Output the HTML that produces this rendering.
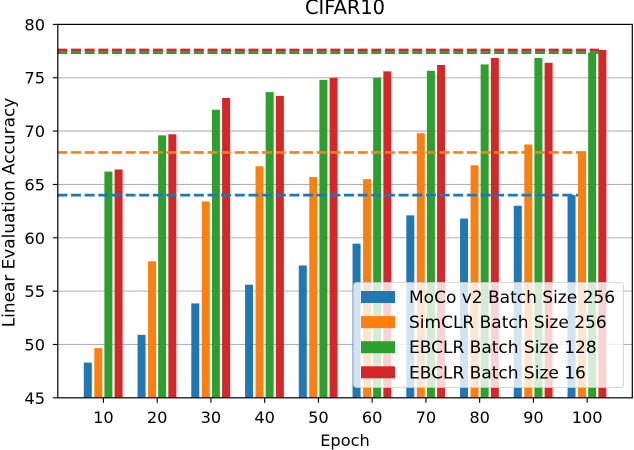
<!DOCTYPE html>
<html>
<head>
<meta charset="utf-8">
<title>CIFAR10</title>
<style>
html,body{margin:0;padding:0;background:#fff;}
svg{display:block;font-family:"DejaVu Sans","Liberation Sans",sans-serif;}
</style>
</head>
<body>
<svg id="chart" xmlns="http://www.w3.org/2000/svg" width="634" height="450" viewBox="0 0 634 450">
  <rect x="0" y="0" width="634" height="450" fill="#ffffff"/>
  <text x="345" y="14" font-size="19.4" text-anchor="middle" fill="#000">CIFAR10</text>
  <text x="345" y="446" font-size="16.2" text-anchor="middle" fill="#000">Epoch</text>
  <text x="0" y="0" font-size="16.9" text-anchor="middle" fill="#000" transform="translate(14.5 212.5) rotate(-90)">Linear Evaluation Accuracy</text>
  <g id="grid-layer"></g>
  <g id="bars-layer"></g>
  <g id="refs-layer"></g>
  <g id="axes-layer"></g>
  <g id="legend-layer"></g>
</svg>
<script>
const categories = [10, 20, 30, 40, 50, 60, 70, 80, 90, 100];
const mocoValues = [48.3, 50.9, 53.85, 55.6, 57.4, 59.45, 62.1, 61.8, 63.0, 64.0];
const simclrValues = [49.65, 57.8, 63.4, 66.7, 65.7, 65.5, 69.8, 66.8, 68.75, 68.0];
const ebclr128Values = [66.2, 69.6, 72.0, 73.65, 74.8, 75.0, 75.65, 76.25, 76.85, 77.35];
const ebclr16Values = [66.4, 69.7, 73.1, 73.3, 75.0, 75.6, 76.2, 76.85, 76.4, 77.6];
const seriesNames = ["MoCo v2 Batch Size 256", "SimCLR Batch Size 256", "EBCLR Batch Size 128", "EBCLR Batch Size 16"];
const referenceValues = [64.0, 68.0, 77.35, 77.6];
const yTicks = [45, 50, 55, 60, 65, 70, 75, 80];

const NS = "http://www.w3.org/2000/svg";
const seriesColors = ["#1f77b4", "#ff7f0e", "#2ca02c", "#d62728"];
const allSeries = [mocoValues, simclrValues, ebclr128Values, ebclr16Values];
const slugs = ["moco", "simclr", "ebclr-128", "ebclr-16"];
const barOffsets = [-15.6, -5.1, 5, 15.2];
const lineEnds = [578, 586, 599, 599];
const barWidth = 8;
const plotLeft = 57.8, plotRight = 632.3, plotTop = 24.4, plotBottom = 397.8;

function yScale(v) { return plotTop + (80 - v) * (plotBottom - plotTop) / 35; }
function xScale(e) { return 103.4 + (e - 10) * 5.375; }
function make(tag, attrs, parent) {
  const el = document.createElementNS(NS, tag);
  for (const k in attrs) el.setAttribute(k, attrs[k]);
  parent.appendChild(el);
  return el;
}

const gridLayer = document.getElementById("grid-layer");
const barsLayer = document.getElementById("bars-layer");
const refsLayer = document.getElementById("refs-layer");
const axesLayer = document.getElementById("axes-layer");
const legendLayer = document.getElementById("legend-layer");

yTicks.forEach(function (t) {
  if (t === 45 || t === 80) return;
  const gl = make("line", {x1: plotLeft, x2: plotRight, y1: yScale(t), y2: yScale(t), stroke: "#b0b0b0", "stroke-width": 1.05}, gridLayer);
  
  
});

allSeries.forEach(function (vals, s) {
  vals.forEach(function (v, i) {
    const x = xScale(categories[i]) + barOffsets[s] - barWidth / 2;
    const r = make("rect", {x: x, y: yScale(v), width: barWidth, height: yScale(45) - yScale(v), fill: seriesColors[s]}, barsLayer);
    
    
  });
});

referenceValues.forEach(function (v, s) {
  const l = make("line", {x1: 57.35, x2: lineEnds[s], y1: yScale(v), y2: yScale(v), stroke: seriesColors[s], "stroke-width": 2.7, "stroke-dasharray": "10 3.65"}, refsLayer);
  
  
});

const axesBox = make("rect", {x: plotLeft, y: plotTop, width: plotRight - plotLeft, height: plotBottom - plotTop, fill: "none", stroke: "#000", "stroke-width": 1.2}, axesLayer);



yTicks.forEach(function (t) {
  const tk = make("line", {x1: plotLeft - 5, x2: plotLeft, y1: yScale(t), y2: yScale(t), stroke: "#000", "stroke-width": 1.1}, axesLayer);
  
  
  const lb = make("text", {x: 45, y: yScale(t) + 6, "font-size": 16.2, "text-anchor": "end", fill: "#000"}, axesLayer);
  lb.textContent = String(t);
  
  
});

categories.forEach(function (c) {
  const x = xScale(c);
  const tk = make("line", {x1: x, x2: x, y1: plotBottom, y2: plotBottom + 5, stroke: "#000", "stroke-width": 1.1}, axesLayer);
  
  
  const lb = make("text", {x: x, y: 423, "font-size": 16.2, "text-anchor": "middle", fill: "#000"}, axesLayer);
  lb.textContent = String(c);
  
  
});

const legendFrame = make("rect", {x: 353.5, y: 282.5, width: 270, height: 105, rx: 3, ry: 3, fill: "#ffffff", "fill-opacity": 0.8, stroke: "#cccccc", "stroke-opacity": 0.8, "stroke-width": 1.1}, legendLayer);



seriesNames.forEach(function (name, s) {
  const cy = 297 + s * 25.1;
  const h = make("rect", {x: 361, y: cy - 6, width: 34, height: 12, fill: seriesColors[s]}, legendLayer);
  
  
  const t = make("text", {x: 409, y: cy + 6, "font-size": 17, fill: "#000"}, legendLayer);
  t.textContent = name;
  
  
});
</script>
</body>
</html>
